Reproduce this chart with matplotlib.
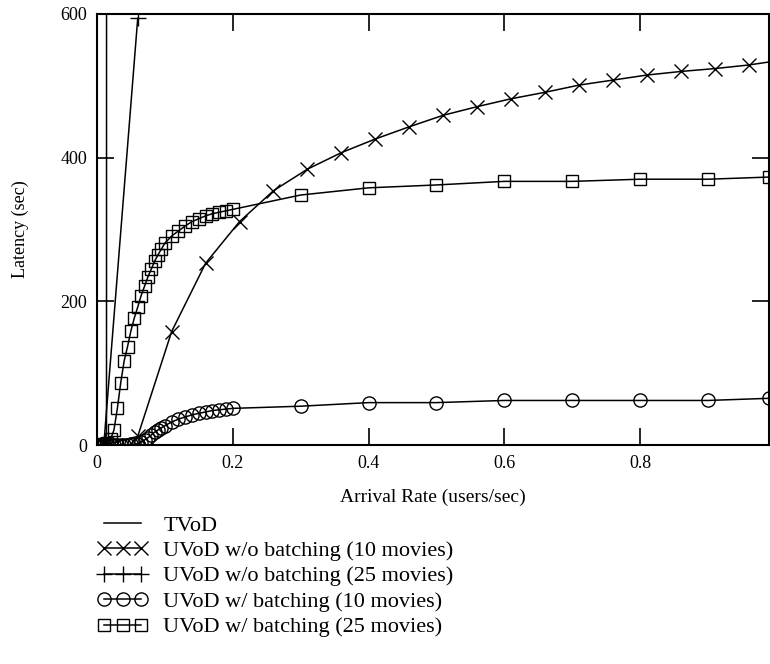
import numpy as np
import matplotlib
matplotlib.use("Agg")
import matplotlib.pyplot as plt

plt.rcParams["font.family"] = ["Liberation Serif", "DejaVu Serif"]

# ---- data ----
# dense sampling at low arrival rate, sparse afterwards
x_batch = [0.0, 0.005, 0.01, 0.015, 0.02, 0.025, 0.03, 0.035, 0.04, 0.045,
           0.05, 0.055, 0.06, 0.065, 0.07, 0.075, 0.08, 0.085, 0.09, 0.095,
           0.1, 0.11, 0.12, 0.13, 0.14, 0.15, 0.16, 0.17, 0.18, 0.19, 0.2,
           0.3, 0.4, 0.5, 0.6, 0.7, 0.8, 0.9, 0.99]

y_batch_25 = [0, 0, 1, 3, 8, 21, 51, 87, 117, 137,
              159, 177, 192, 208, 221, 234, 245, 256, 265, 273,
              281, 291, 298, 305, 311, 315, 319, 322, 324, 326, 328,
              348, 358, 362, 367, 367, 370, 370, 373]

y_batch_10 = [0, 0, 0, 0, 0, 0, 0, 0, 0, 0,
              1, 1, 2, 4, 7, 10, 14, 18, 21, 24,
              27, 32, 36, 39, 42, 44, 46, 48, 49, 50, 51,
              54, 59, 59, 62, 62, 62, 62, 65]

x_nobatch_10 = [0.01, 0.06, 0.11, 0.16, 0.21, 0.26, 0.31, 0.36, 0.41, 0.46,
                0.51, 0.56, 0.61, 0.66, 0.71, 0.76, 0.81, 0.86, 0.91, 0.96, 1.01]
y_nobatch_10 = [0, 12, 158, 253, 311, 354, 384, 407, 426, 443,
                459, 471, 482, 491, 501, 508, 515, 520, 524, 529, 536]

x_nobatch_25 = [0.0, 0.005, 0.01, 0.06]
y_nobatch_25 = [0, 0, 0, 594]

x_tvod = [0.0, 0.005, 0.01, 0.014, 0.015]
y_tvod = [0, 0, 0, 2, 9000]

labels = ["TVoD",
          "UVoD w/o batching (10 movies)",
          "UVoD w/o batching (25 movies)",
          "UVoD w/ batching (10 movies)",
          "UVoD w/ batching (25 movies)"]

x_ticks = [0, 0.2, 0.4, 0.6, 0.8]
y_ticks = [0, 200, 400, 600]


def main():
    W, H = 770, 664
    fig = plt.figure(figsize=(W / 100, H / 100), dpi=100)
    # axes box in pixels: left 97, right 769, top 14, bottom 445
    ax = fig.add_axes([97 / W, 1 - 445 / H, 672 / W, 431 / H])

    lw = 1.1
    mkw = dict(color="black", linewidth=lw, markerfacecolor="none",
               markeredgecolor="black", markeredgewidth=1.0)
    ax.plot(x_tvod, y_tvod, label=labels[0], color="black", linewidth=lw)
    ax.plot(x_nobatch_10, y_nobatch_10, marker="x", markersize=10,
            label=labels[1], **mkw)
    ax.plot(x_nobatch_25, y_nobatch_25, marker="+", markersize=11,
            label=labels[2], **mkw)
    ax.plot(x_batch, y_batch_10, marker="o", markersize=9.5,
            label=labels[3], **mkw)
    ax.plot(x_batch, y_batch_25, marker="s", markersize=8,
            label=labels[4], **mkw)

    ax.set_xlim(0, 0.99)
    ax.set_ylim(0, 600)
    ax.set_xticks(x_ticks)
    ax.set_xticklabels(["0", "0.2", "0.4", "0.6", "0.8"])
    ax.set_yticks(y_ticks)
    ax.tick_params(direction="in", length=12, width=1.2, top=True, right=True,
                   labelsize=13, pad=7)
    for s in ax.spines.values():
        s.set_linewidth(1.5)

    ax.set_xlabel("Arrival Rate (users/sec)", fontsize=14, va="center")
    ax.xaxis.set_label_coords(0.5, (445 - 497) / 431)
    ax.set_ylabel("Latency (sec)", fontsize=13, va="center")
    ax.yaxis.set_label_coords((20 - 97) / 672, 0.5)

    handles, labs = ax.get_legend_handles_labels()
    fig.legend(handles, labs, loc="upper left",
               bbox_to_anchor=(97 / W, 1 - 515 / H),
               frameon=False, fontsize=16, numpoints=3, handlelength=2.3,
               handletextpad=0.68, labelspacing=0.22, borderpad=0,
               borderaxespad=0, markerscale=1.0)

    fig.savefig("out.png", dpi=100)


if __name__ == "__main__":
    main()
